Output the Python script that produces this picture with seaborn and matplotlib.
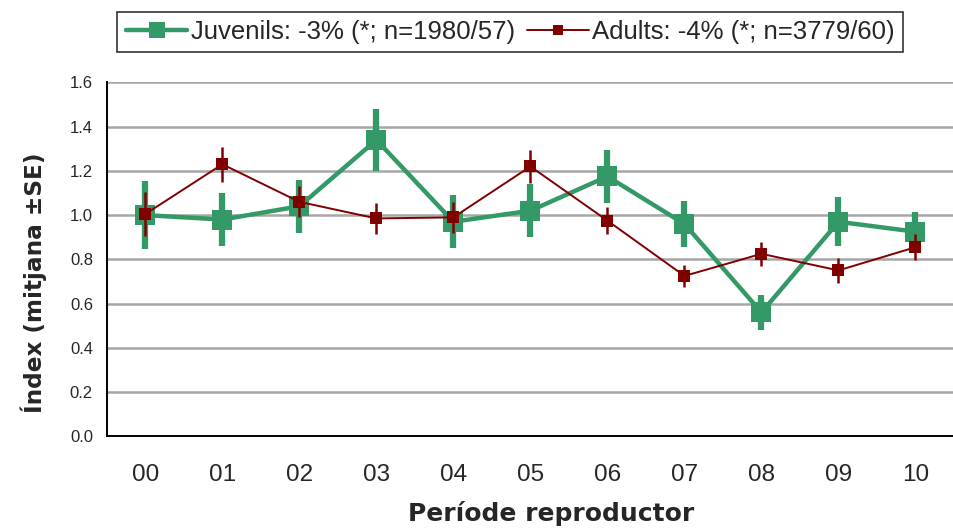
import numpy as np
import pandas as pd
import matplotlib
matplotlib.use("Agg")
import matplotlib.pyplot as plt
import seaborn as sns

# Data
periods = ["00", "01", "02", "03", "04", "05", "06", "07", "08", "09", "10"]
juv_mean = [1.00, 0.98, 1.04, 1.34, 0.97, 1.02, 1.175, 0.96, 0.56, 0.97, 0.925]
juv_se = [0.155, 0.12, 0.12, 0.14, 0.12, 0.12, 0.12, 0.105, 0.08, 0.11, 0.09]
adu_mean = [1.005, 1.23, 1.06, 0.985, 0.99, 1.22, 0.975, 0.725, 0.825, 0.75, 0.855]
adu_se = [0.10, 0.08, 0.07, 0.07, 0.07, 0.075, 0.06, 0.05, 0.055, 0.055, 0.06]

juv_label = "Juvenils: -3% (*; n=1980/57)"
adu_label = "Adults: -4% (*; n=3779/60)"

green = "#339966"
red = "#800000"

df = pd.DataFrame({
    "x": list(range(len(periods))) * 2,
    "mean": juv_mean + adu_mean,
    "se": juv_se + adu_se,
    "grup": [juv_label] * len(periods) + [adu_label] * len(periods),
})

sns.set_style("white")
plt.rcParams["font.family"] = ["Liberation Sans", "DejaVu Sans"]

fig = plt.figure(figsize=(9.54, 5.32), dpi=100)
ax = fig.add_axes([0.112, 0.180, 0.888, 0.665])

juv = df[df["grup"] == juv_label]
adu = df[df["grup"] == adu_label]

# error bars (mean +- SE)
ax.errorbar(juv["x"], juv["mean"], yerr=juv["se"], fmt="none",
            ecolor=green, elinewidth=4.5, capsize=0, zorder=3)
sns.lineplot(data=juv, x="x", y="mean", color=green, lw=3.2, marker="s",
             markersize=14.5, markeredgewidth=0, ax=ax, zorder=4,
             label=juv_label)
ax.errorbar(adu["x"], adu["mean"], yerr=adu["se"], fmt="none",
            ecolor=red, elinewidth=1.8, capsize=0, zorder=5)
sns.lineplot(data=adu, x="x", y="mean", color=red, lw=1.4, marker="s",
             markersize=9, markeredgewidth=0, ax=ax, zorder=6,
             label=adu_label)

ax.set_ylim(0, 1.6)
yt = np.arange(0, 1.61, 0.2)
ax.set_yticks(yt)
ax.set_yticklabels([f"{v:.1f}" for v in yt], fontsize=12)
ax.set_xlim(-0.5, 10.24)
ax.set_xticks(range(len(periods)))
ax.set_xticklabels(periods, fontsize=17.5)
ax.set_xticks(np.arange(-0.5, len(periods), 1.0), minor=True)
ax.tick_params(axis="x", which="major", length=0, pad=20)
ax.tick_params(axis="x", which="minor", length=7, width=1.3, color="black", direction="out")
ax.tick_params(axis="y", length=6, width=1.3, color="black", direction="out", pad=4)

ax.grid(axis="y", color="#a6a6a6", lw=1.8)
ax.grid(axis="x", visible=False)
ax.set_axisbelow(True)
for s in ["top", "right"]:
    ax.spines[s].set_visible(False)
for s in ["left", "bottom"]:
    ax.spines[s].set_color("black")
    ax.spines[s].set_linewidth(1.4)

ax.set_ylabel("Índex (mitjana ±SE)", fontsize=16.7, fontweight="bold",
              family="DejaVu Sans")
ax.yaxis.set_label_coords(-0.071, 0.435)
ax.set_xlabel("Període reproductor", fontsize=18, fontweight="bold",
              family="DejaVu Sans")
ax.xaxis.set_label_coords(0.524, -0.184)

ax.legend(loc="center", bbox_to_anchor=(0.535, 0.94), bbox_transform=fig.transFigure,
          ncol=2, fontsize=18.5, frameon=True, fancybox=False, edgecolor="black",
          handlelength=2.4, handletextpad=0.15, columnspacing=0.45,
          borderpad=0.32, borderaxespad=0, markerscale=0.8)
leg = ax.get_legend()
leg.get_frame().set_linewidth(1.2)

fig.savefig("out.png", dpi=100)
